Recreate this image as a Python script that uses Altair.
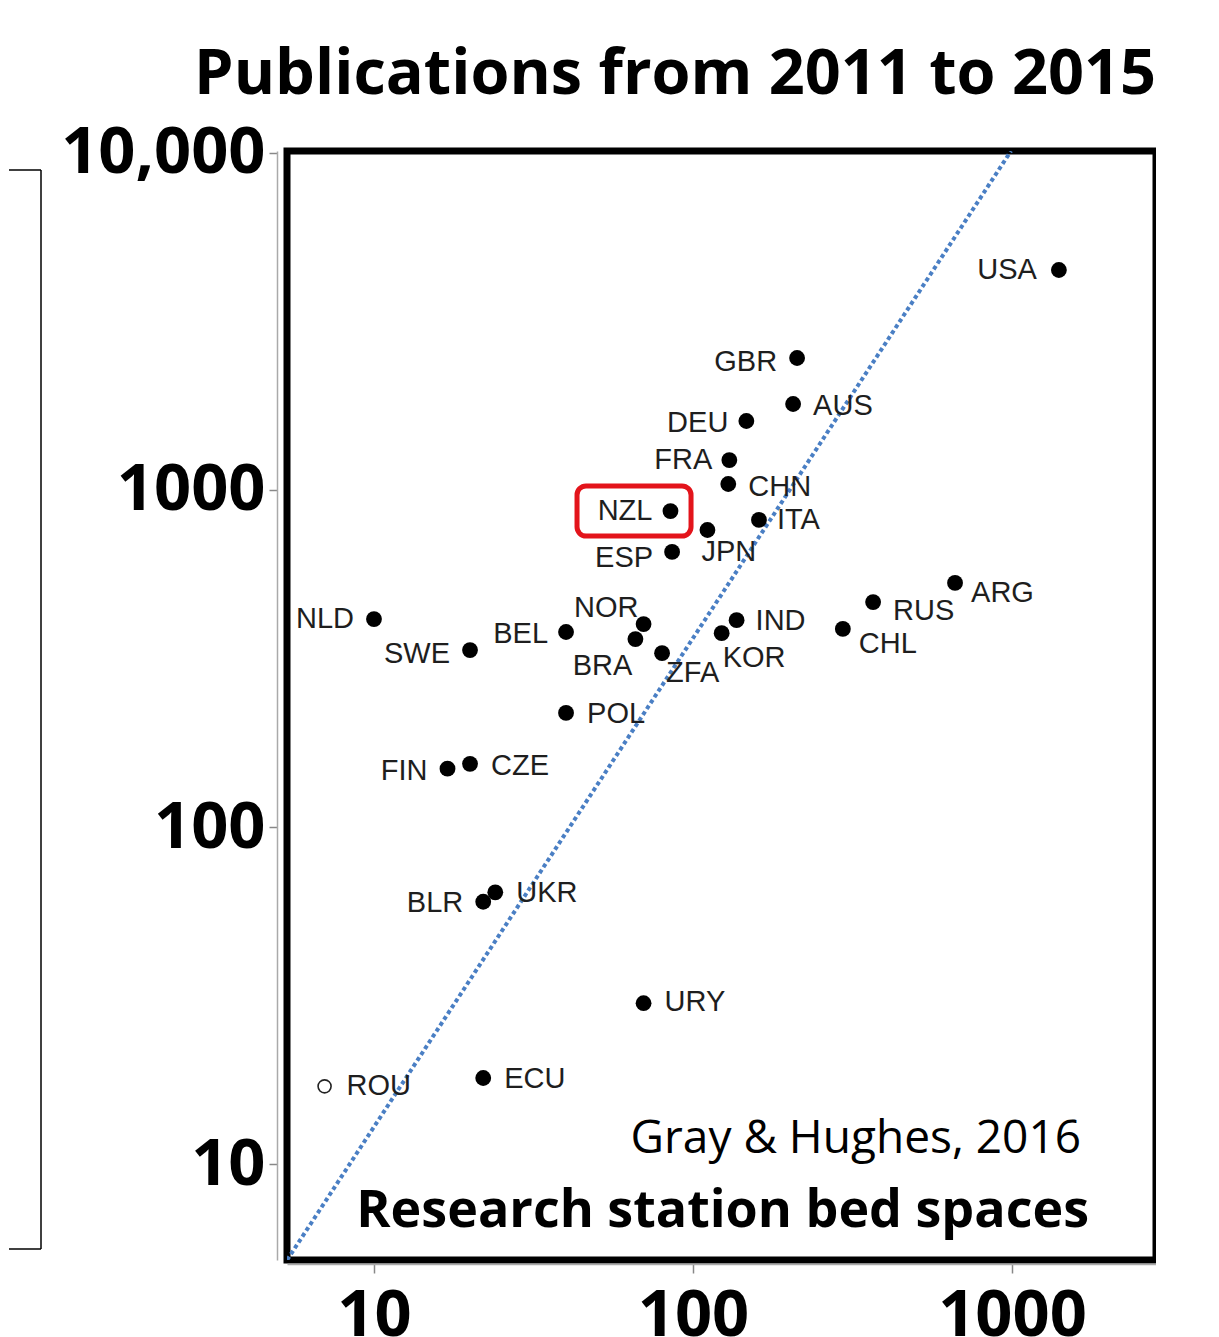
import altair as alt
import pandas as pd

# ---- data ----
countries = ["USA", "GBR", "AUS", "DEU", "FRA", "CHN", "NZL", "JPN", "ITA", "ESP",
             "NLD", "SWE", "BEL", "NOR", "BRA", "ZFA", "IND", "KOR", "POL", "FIN",
             "CZE", "ARG", "RUS", "CHL", "BLR", "UKR", "URY", "ECU", "ROU"]
bed_spaces = [1403, 212, 206, 147, 130, 129, 85, 111, 161, 86,
              10, 20, 40, 70, 66, 80, 137, 123, 40, 17,
              20, 663, 367, 295, 22, 24, 70, 22, 7]
publications = [4496, 2464, 1800, 1602, 1227, 1042, 866, 761, 815, 655,
                414, 335, 379, 400, 361, 328, 411, 376, 218, 149,
                154, 530, 465, 387, 60, 64, 30, 18, 17]
open_marker = ["ROU"]

# dotted reference line
line_x = [5.34, 993]
line_y = [5.19, 10137]

# highlight box around NZL
box_x = [43.3, 98.6]
box_y = [730, 1028]

x_ticks = [10, 100, 1000]
y_ticks = [10, 100, 1000, 10000]
x_domain = [5.337, 2828]
y_domain = [5.19, 10137]

PLOT_W, PLOT_H = 869, 1109
PX_PER_DEC_X = 319
PX_PER_DEC_Y = 337

# label placement: (align, dx px, dy px)
placement = {
    "USA": ("right", -22, 0), "GBR": ("right", -20, 4), "AUS": ("left", 20, 2),
    "DEU": ("right", -18, 2), "FRA": ("right", -17, 0), "CHN": ("left", 20, 3),
    "NZL": ("right", -18, 0), "JPN": ("left", -6, 22), "ITA": ("left", 18, 0),
    "ESP": ("right", -19, 6), "NLD": ("right", -20, 0), "SWE": ("right", -20, 4),
    "BEL": ("right", -18, 2), "NOR": ("right", -5, -16), "BRA": ("right", -3, 27),
    "ZFA": ("left", 4, 20), "IND": ("left", 19, 1), "KOR": ("left", 1, 25),
    "POL": ("left", 21, 1), "FIN": ("right", -20, 2), "CZE": ("left", 21, 2),
    "ARG": ("left", 16, 10), "RUS": ("left", 20, 9), "CHL": ("left", 16, 15),
    "BLR": ("right", -20, 1), "UKR": ("left", 21, 1), "URY": ("left", 21, -1),
    "ECU": ("left", 21, 1), "ROU": ("left", 22, 0),
}

df = pd.DataFrame({"country": countries, "beds": bed_spaces, "pubs": publications})
df["open"] = df["country"].isin(open_marker)
df["align"] = [placement[c][0] for c in countries]
df["dx"] = [placement[c][1] for c in countries]
df["dy"] = [placement[c][2] for c in countries]

line_df = pd.DataFrame({"beds": line_x, "pubs": line_y})
box_df = pd.DataFrame({"x1": [box_x[0]], "x2": [box_x[1]], "y1": [box_y[0]], "y2": [box_y[1]]})

xs = alt.Scale(type="log", domain=x_domain, nice=False)
ys = alt.Scale(type="log", domain=y_domain, nice=False)

LABEL_FONT = "Liberation Sans"
BIG_FONT = "Open Sans"

x_axis = alt.Axis(values=x_ticks, title=None, format="d", grid=False,
                  labelFont=BIG_FONT, labelFontWeight="bold", labelFontSize=65,
                  labelColor="black", labelPadding=11, tickSize=9, tickColor="#888",
                  tickWidth=1.5, domainColor="#aaa", domainWidth=1.5, offset=4,
                  labelFlush=False, labelLimit=0)
y_axis = alt.Axis(values=y_ticks, title=None, grid=False,
                  labelExpr="datum.value >= 10000 ? format(datum.value, ',') : format(datum.value, 'd')",
                  labelFont=BIG_FONT, labelFontWeight="bold", labelFontSize=65,
                  labelColor="black", labelPadding=4, tickSize=8, tickColor="#888",
                  tickWidth=1.5, domainColor="#aaa", domainWidth=1.5, offset=10,
                  labelFlush=False, labelLimit=0)


def X(field):
    return alt.X(field, scale=xs, axis=x_axis)


def Y(field):
    return alt.Y(field, scale=ys, axis=y_axis)


base_line = alt.Chart(line_df).mark_line(
    color="#4a7fc4", strokeWidth=4, strokeDash=[4, 3], strokeCap="butt", clip=True
).encode(x=X("beds:Q"), y=Y("pubs:Q"))

filled = alt.Chart(df).transform_filter("!datum.open").mark_circle(
    size=250, color="black", opacity=1
).encode(x=X("beds:Q"), y=Y("pubs:Q"))

hollow = alt.Chart(df).transform_filter("datum.open").mark_point(
    shape="circle", size=170, color="#222", strokeWidth=1.6, filled=False, opacity=1
).encode(x=X("beds:Q"), y=Y("pubs:Q"))


def label_layer(side):
    return alt.Chart(df).transform_filter(
        f"datum.align == '{side}'"
    ).transform_calculate(
        lx=f"datum.beds * pow(10, datum.dx / {PX_PER_DEC_X})",
        ly=f"datum.pubs * pow(10, -datum.dy / {PX_PER_DEC_Y})",
    ).mark_text(
        align=side, baseline="middle", font=LABEL_FONT, fontSize=29, color="#1e1e1e"
    ).encode(x=X("lx:Q"), y=Y("ly:Q"), text="country:N")


box = alt.Chart(box_df).mark_rect(
    fill=None, fillOpacity=0, stroke="#e3141b", strokeWidth=5, cornerRadius=9
).encode(x=X("x1:Q"), x2="x2:Q", y=Y("y1:Q"), y2="y2:Q")

credit = alt.Chart(pd.DataFrame({"t": ["Gray & Hughes, 2016"]})).mark_text(
    align="right", baseline="middle", font=BIG_FONT, fontSize=46, color="black"
).encode(x=alt.value(794), y=alt.value(988), text="t:N")

xtitle = alt.Chart(pd.DataFrame({"t": ["Research station bed spaces"]})).mark_text(
    align="right", baseline="middle", font=BIG_FONT, fontSize=52, fontWeight="bold", color="black"
).encode(x=alt.value(802), y=alt.value(1060), text="t:N")

# the partly visible box at the left edge of the slide
deco_df = pd.DataFrame({"k": [0]})
deco_v = alt.Chart(deco_df).mark_rule(color="black", strokeWidth=1.5).encode(
    x=alt.value(-246), y=alt.value(19), y2=alt.value(1098))
deco_t = alt.Chart(deco_df).mark_rule(color="black", strokeWidth=1.5).encode(
    x=alt.value(-278), x2=alt.value(-246), y=alt.value(19))
deco_b = alt.Chart(deco_df).mark_rule(color="black", strokeWidth=1.5).encode(
    x=alt.value(-278), x2=alt.value(-246), y=alt.value(1098))

chart = alt.layer(
    base_line, filled, hollow, label_layer("left"), label_layer("right"),
    box, credit, xtitle, deco_v, deco_t, deco_b
).properties(
    width=PLOT_W, height=PLOT_H,
    padding={"top": 35, "left": 0, "right": 0, "bottom": 0},
    title=alt.TitleParams("Publications from 2011 to 2015", anchor="end", frame="group",
                          font=BIG_FONT, fontSize=63, fontWeight="bold", color="black",
                          offset=14),
).configure(background="white").configure_view(stroke="black", strokeWidth=7)

chart.save("out.html", embed_options={"renderer": "svg", "actions": False})
